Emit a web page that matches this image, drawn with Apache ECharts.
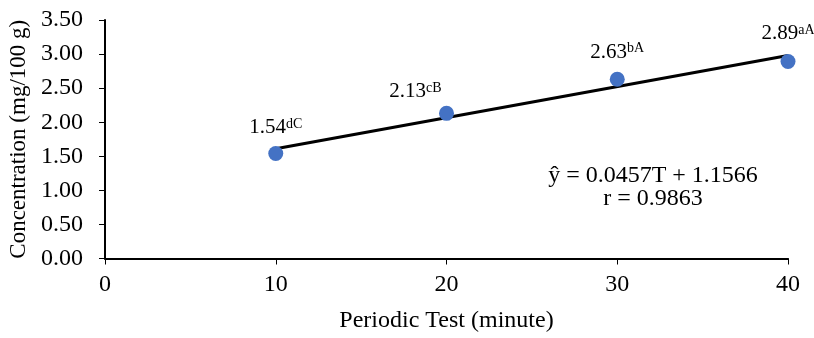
<!DOCTYPE html>
<html><head><meta charset="utf-8">
<script src="https://cdn.jsdelivr.net/npm/echarts@6/dist/echarts.min.js"></script>
<style>html,body{margin:0;padding:0;background:#fff}#c{width:814px;height:338px}</style>
</head><body><div id="c"></div>
<script>
const times = [10, 20, 30, 40];
const values = [1.54, 2.13, 2.63, 2.89];
const superscripts = ['dC', 'cB', 'bA', 'aA'];
const trendX = [10, 40];
const trendY = [1.61, 2.98];
const equationLines = ['ŷ = 0.0457T + 1.1566', 'r = 0.9863'];
const xTitle = 'Periodic Test (minute)';
const yTitle = 'Concentration (mg/100 g)';
const labelOffsets = [[0, 0], [-31, 4], [0, -1], [0, -2]];

const F = '"Liberation Serif", "Times New Roman", serif';
const FS = 24;
const chart = echarts.init(document.getElementById('c'), null, {renderer: 'canvas'});
chart.setOption({
  animation: false,
  grid: {left: 105, right: 26, top: 20, bottom: 79.5, outerBoundsMode: 'none', containLabel: false},
  xAxis: {
    type: 'value', min: 0, max: 40, interval: 10,
    name: xTitle, nameLocation: 'middle', nameGap: 50,
    nameTextStyle: {fontFamily: F, fontSize: FS, color: '#000'},
    axisLine: {show: true, onZero: false, lineStyle: {color: '#000', width: 2}},
    axisTick: {show: true, length: 6, lineStyle: {color: '#000', width: 1}},
    axisLabel: {fontFamily: F, fontSize: FS, color: '#000', margin: 14},
    splitLine: {show: false}
  },
  yAxis: {
    type: 'value', min: 0, max: 3.5, interval: 0.5,
    name: yTitle, nameLocation: 'middle', nameGap: 72,
    nameTextStyle: {fontFamily: F, fontSize: 23, color: '#000'},
    axisLine: {show: true, lineStyle: {color: '#000', width: 2}},
    axisTick: {show: true, length: 6, lineStyle: {color: '#000', width: 1}},
    axisLabel: {fontFamily: F, fontSize: FS, color: '#000', margin: 22, formatter: v => v.toFixed(2)},
    splitLine: {show: false}
  },
  series: [
    {
      type: 'line', data: trendX.map((x, i) => [x, trendY[i]]),
      symbol: 'none', lineStyle: {color: '#000', width: 3}, z: 2
    },
    {
      type: 'scatter', symbolSize: 15, itemStyle: {color: '#4472C4', opacity: 1}, z: 3,
      data: times.map((t, i) => ({
        value: [t, values[i]],
        label: {
          show: true, position: 'top', distance: 8, offset: labelOffsets[i], color: '#000',
          formatter: '{a|' + values[i].toFixed(2) + '}{b|' + superscripts[i] + '}',
          rich: {
            a: {fontFamily: F, fontSize: 21, color: '#000', verticalAlign: 'bottom', lineHeight: 24},
            b: {fontFamily: F, fontSize: 14, color: '#000', verticalAlign: 'bottom', lineHeight: 24, padding: [0, 0, 7, 0]}
          }
        }
      }))
    }
  ],
  graphic: [
    {type: 'text', x: 653, y: 176, style: {text: equationLines[0], fontFamily: F, fontSize: FS, fill: '#000', align: 'center', verticalAlign: 'middle'}},
    {type: 'text', x: 653, y: 199, style: {text: equationLines[1], fontFamily: F, fontSize: FS, fill: '#000', align: 'center', verticalAlign: 'middle'}}
  ]
});
</script></body></html>
